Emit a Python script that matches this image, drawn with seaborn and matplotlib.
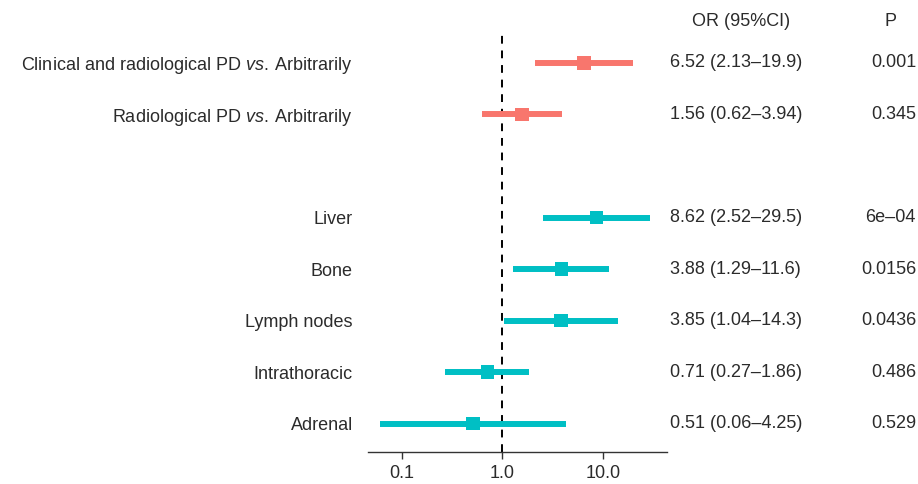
import matplotlib
matplotlib.use("Agg")
import matplotlib.pyplot as plt
import matplotlib.transforms as mtrans
import seaborn as sns
import pandas as pd
import numpy as np

labels = ["Clinical and radiological PD $\\it{vs.}$\u2009Arbitrarily",
          "Radiological PD $\\it{vs.}$\u2009Arbitrarily",
          "",
          "Liver", "Bone", "Lymph nodes", "Intrathoracic", "Adrenal"]
group = ["pd", "pd", None, "site", "site", "site", "site", "site"]
or_vals = [6.52, 1.56, np.nan, 8.62, 3.88, 3.85, 0.71, 0.51]
lo_vals = [2.13, 0.62, np.nan, 2.52, 1.29, 1.04, 0.27, 0.06]
hi_vals = [19.9, 3.94, np.nan, 29.5, 11.6, 14.3, 1.86, 4.25]
or_text = ["6.52 (2.13–19.9)", "1.56 (0.62–3.94)", "", "8.62 (2.52–29.5)",
           "3.88 (1.29–11.6)", "3.85 (1.04–14.3)", "0.71 (0.27–1.86)", "0.51 (0.06–4.25)"]
p_text = ["0.001", "0.345", "", "6e–04", "0.0156", "0.0436", "0.486", "0.529"]
tick_vals = [0.1, 1.0, 10.0]
tick_labels = ["0.1", "1.0", "10.0"]

palette = {"pd": "#F8766D", "site": "#00BFC4"}

sns.set_style("white")
plt.rcParams['font.family'] = ['Liberation Sans', 'DejaVu Sans']
plt.rcParams['mathtext.fontset'] = 'custom'
plt.rcParams['mathtext.rm'] = 'Liberation Sans'
plt.rcParams['mathtext.it'] = 'Liberation Sans:italic'

FS = 13
TC = "#2b2b2b"

df = pd.DataFrame({"label": labels, "group": group, "OR": or_vals,
                   "lo": lo_vals, "hi": hi_vals, "y": np.arange(len(labels))})
d = df.dropna(subset=["OR"])

W, H = 918, 484
fig = plt.figure(figsize=(W / 100, H / 100), dpi=100)
ax = fig.add_axes([368 / W, 1 - 452 / H, (667 - 368) / W, (452 - 32) / H])

for _, r in d.iterrows():
    ax.hlines(r["y"], r["lo"], r["hi"], color=palette[r["group"]], lw=4.3, zorder=2)
sns.scatterplot(data=d, x="OR", y="y", hue="group", palette=palette, marker="s",
                s=95, linewidth=0, legend=False, ax=ax, zorder=3)
ax.axvline(1.0, color="black", lw=1.4, ls=(0, (4, 3.5)), zorder=1)

ax.set_xscale("log")
ax.set_xlim(0.046, 43.5)
ax.set_ylim(7.55, -0.6)
ax.set_xticks(tick_vals)
ax.set_xticklabels(tick_labels)
ax.minorticks_off()
ax.set_yticks(df["y"])
ax.set_yticklabels(df["label"])
ax.tick_params(axis="y", length=0, pad=11, labelsize=FS, labelcolor=TC)
ax.tick_params(axis="x", length=5, width=1, color="#333333", labelsize=FS,
               labelcolor=TC, pad=4, bottom=True)
ax.set_xlabel("")
ax.set_ylabel("")
for s in ["top", "right", "left"]:
    ax.spines[s].set_visible(False)
ax.spines["bottom"].set_color("#333333")
ax.spines["bottom"].set_linewidth(1)

tr = mtrans.blended_transform_factory(fig.transFigure, ax.transData)
for yi, t in zip(df["y"], or_text):
    ax.text(670 / W, yi, t, transform=tr, ha="left", va="center", fontsize=FS, color=TC)
for yi, t in zip(df["y"], p_text):
    ax.text(916 / W, yi, t, transform=tr, ha="right", va="center", fontsize=FS, color=TC)
fig.text(741 / W, 1 - 22 / H, "OR (95%CI)", ha="center", va="center", fontsize=FS, color=TC)
fig.text(890 / W, 1 - 22 / H, "P", ha="center", va="center", fontsize=FS, color=TC)

fig.savefig("out.png", dpi=100)
